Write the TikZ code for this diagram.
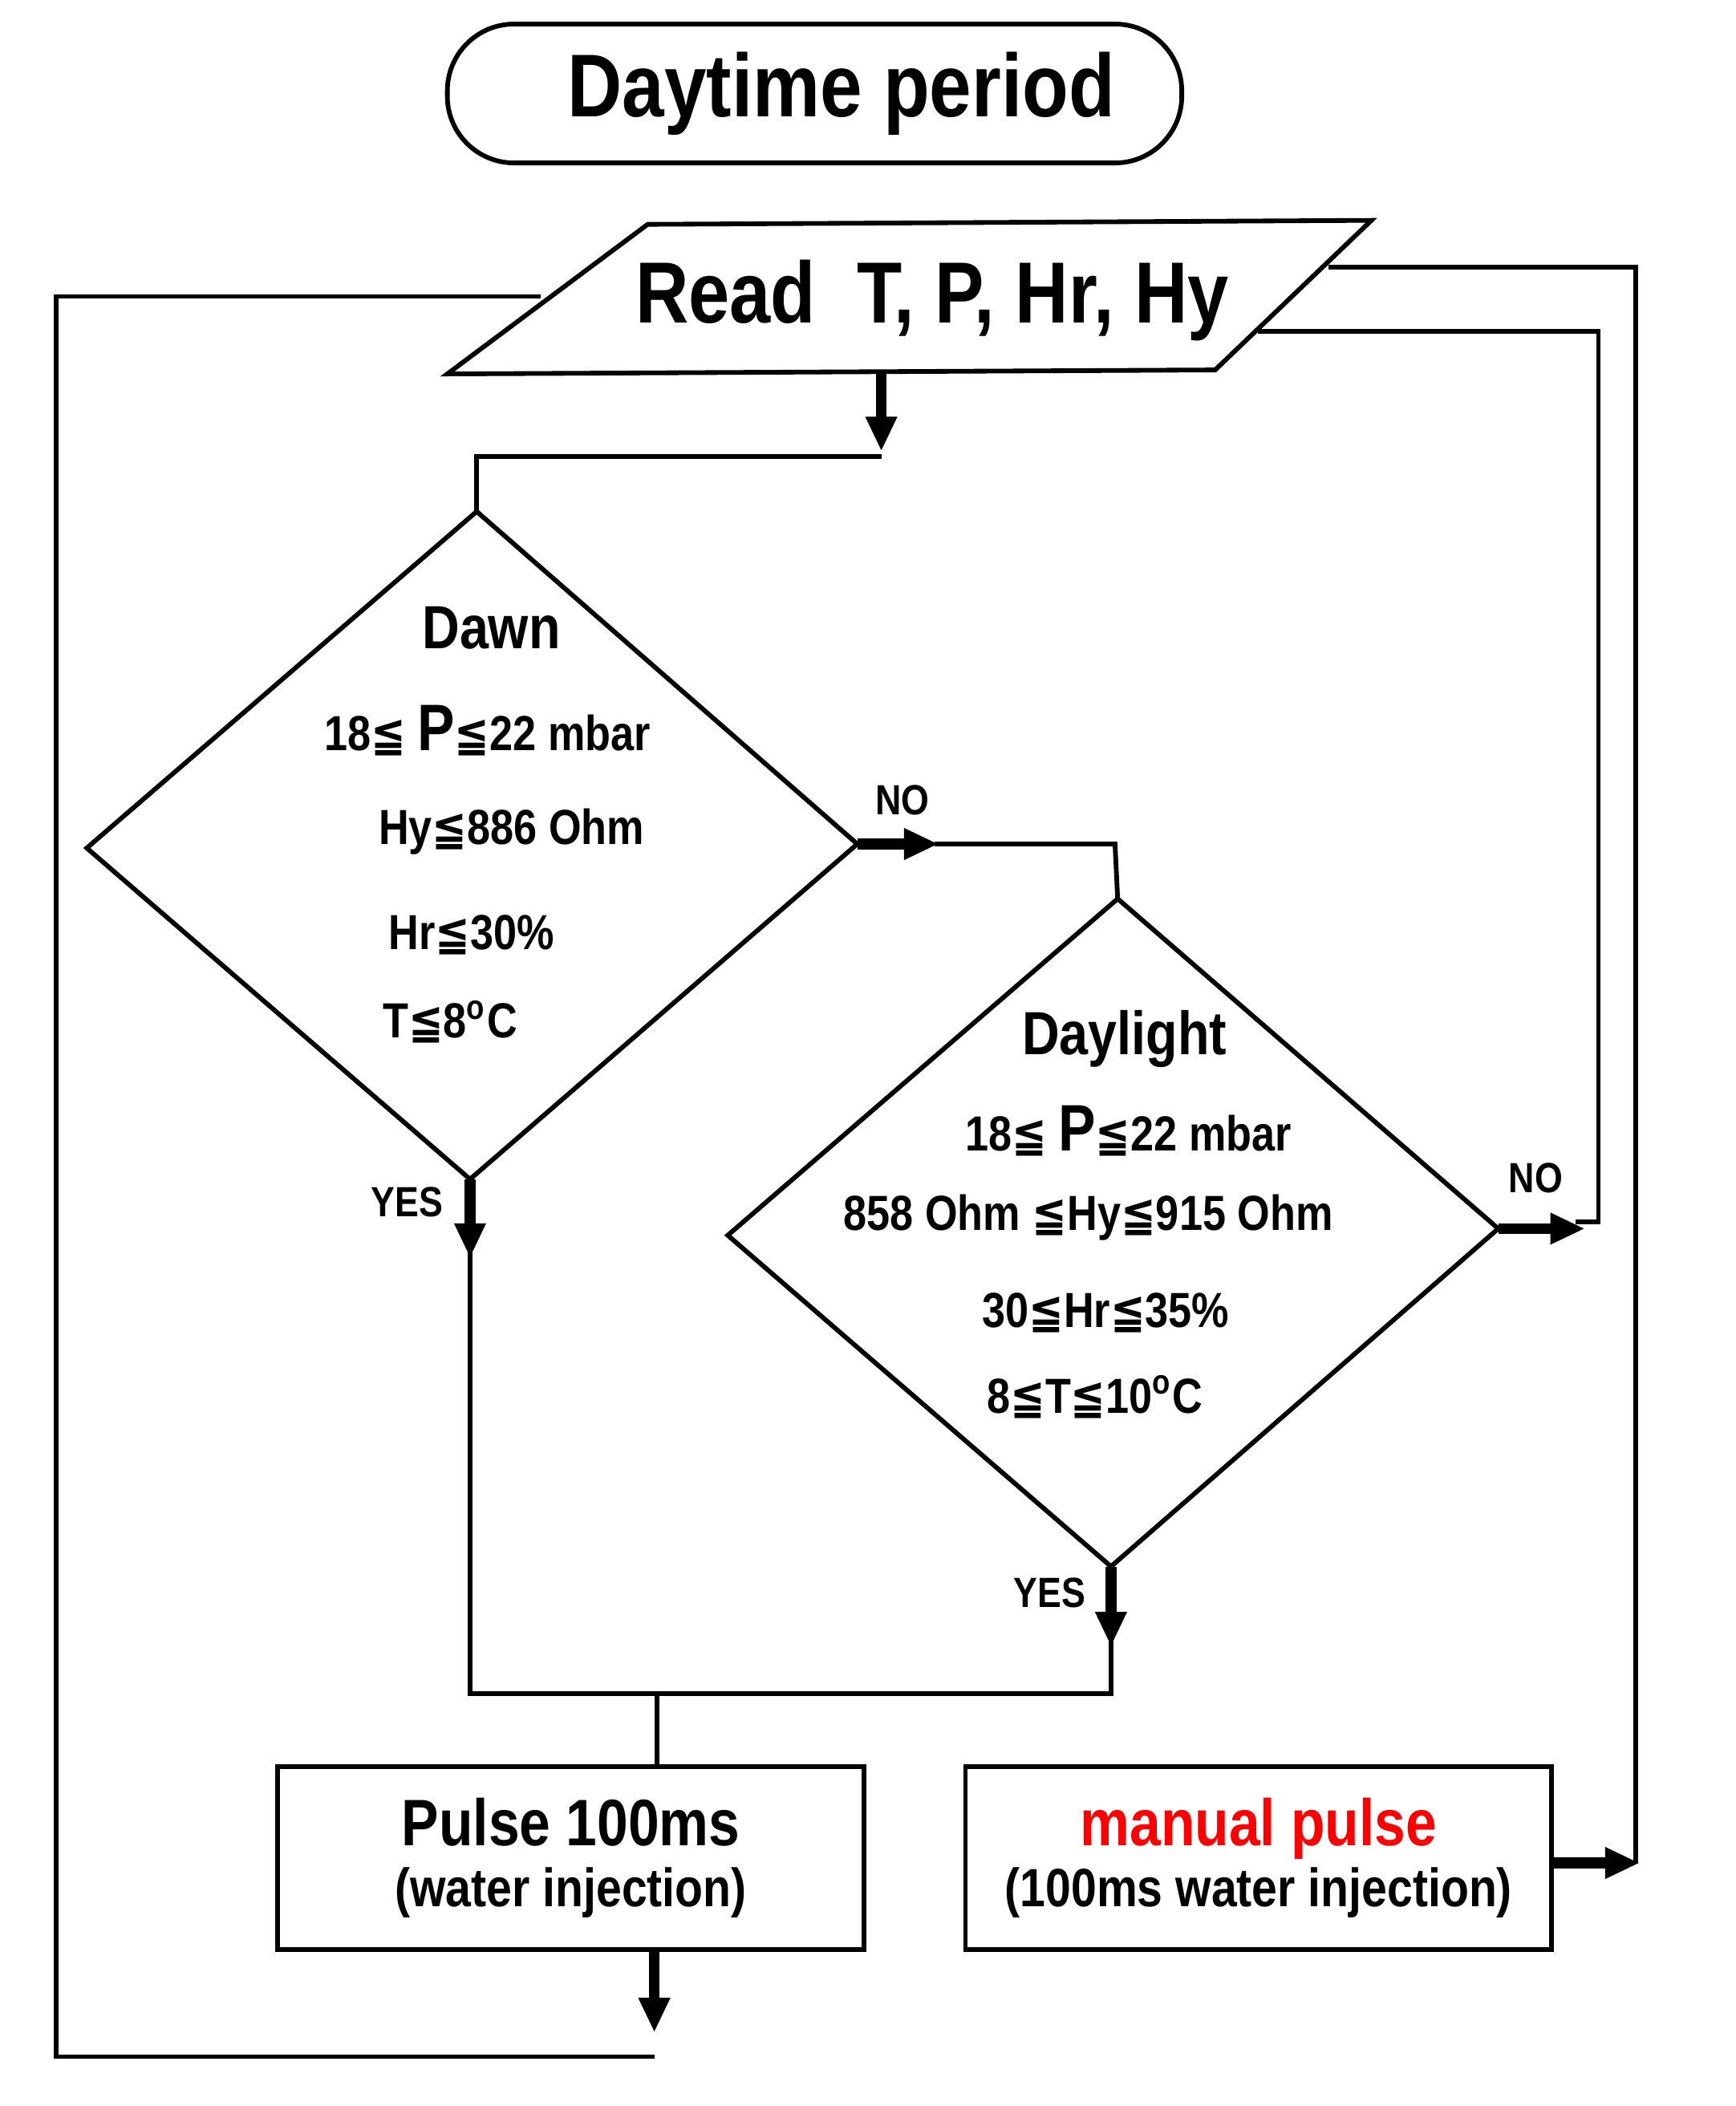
\documentclass[tikz,border=0pt]{standalone}
\usepackage{fontspec}
\setmainfont{Liberation Sans}[FakeStretch=0.85]
\newfontfamily\symf{DejaVu Sans}[FakeStretch=0.85]
\usetikzlibrary{arrows.meta}
\newcommand{\leqq}{{\symf\char"2266}}
\begin{document}
\begin{tikzpicture}[x=0.1mm,y=-0.1mm,line width=0.35mm,
  big/.style={-{Triangle[length=2.6mm,width=2.2mm]},line width=0.8mm},
  lab/.style={font=\bfseries\fontsize{9pt}{10pt}\selectfont},
  cond/.style={font=\bfseries\fontsize{10.5pt}{12pt}\selectfont}]
\useasboundingbox (0,0) rectangle (1300,1577);
% terminal
\node[draw,rounded corners=5mm,line width=0.35mm,minimum width=55mm,minimum height=10.4mm,
  font=\bfseries\fontsize{19pt}{22pt}\selectfont] (term) at (610,70) {\hspace*{4mm}Daytime period};
% parallelogram
\draw (335,280) coordinate (pa) -- (485,168) coordinate (pb) -- (1027,165) coordinate (pc) -- (910,277) coordinate (pd) -- cycle;
\node[font=\bfseries\fontsize{18.5pt}{22pt}\selectfont] (read) at (698,225) {Read\ \ T, P, Hr, Hy};
\coordinate (rl) at (405,222);
\coordinate (rr1) at (995,200);
\coordinate (rr2) at (942,248);
\coordinate (rb) at (660,278);
% diamonds
\draw (357,383) coordinate (dt) -- (642,632) coordinate (dr) -- (352,883) coordinate (db) -- (65,635) coordinate (dl) -- cycle;
\draw (837,673) coordinate (lt) -- (1122,920) coordinate (lr) -- (832,1173) coordinate (lb) -- (545,925) coordinate (ll) -- cycle;
\node[font=\bfseries\fontsize{13pt}{15pt}\selectfont] (dawn) at (368,470) {Dawn};
\node[cond] (d1) at (365,547) {18\leqq\ {\fontsize{14pt}{15pt}\selectfont P}\leqq22 mbar};
\node[cond] (d2) at (383,623) {Hy\leqq886 Ohm};
\node[cond] (d3) at (353,700) {Hr\leqq30\%};
\node[cond] (d4) at (337,765) {T\leqq8\textsuperscript{o}C};
\node[font=\bfseries\fontsize{13pt}{15pt}\selectfont] (dl0) at (842,778) {Daylight};
\node[cond] (l1) at (845,847) {18\leqq\ {\fontsize{14pt}{15pt}\selectfont P}\leqq22 mbar};
\node[cond] (l2) at (815,912) {858 Ohm \leqq Hy\leqq915 Ohm};
\node[cond] (l3) at (828,983) {30\leqq Hr\leqq35\%};
\node[cond] (l4) at (820,1046) {8\leqq T\leqq10\textsuperscript{o}C};
% boxes
\node[draw,line width=0.35mm,minimum width=43.9mm,minimum height=13.7mm,align=center] (pulse) at (427.5,1391.5)
 {{\bfseries\fontsize{14pt}{17pt}\selectfont Pulse 100ms}\\[1pt]{\bfseries\fontsize{11.5pt}{14pt}\selectfont (water injection)}};
\node[draw,line width=0.35mm,minimum width=43.9mm,minimum height=13.7mm,align=center] (manual) at (942.5,1391.5)
 {{\bfseries\fontsize{14pt}{17pt}\selectfont\color{red} manual pulse}\\[1pt]{\bfseries\fontsize{11.5pt}{14pt}\selectfont (100ms water injection)}};
% labels
\node[lab] (no1) at (676,599) {NO};
\node[lab] (no2) at (1150,882) {NO};
\node[lab] (yes1) at (305,900) {YES};
\node[lab] (yes2) at (786,1193) {YES};
% connectors
\draw[big] (rb) -- (660,338);
\draw (660,342) -- (357,342) -- (dt);
\draw[big] (dr) -- (703,632);
\draw (700,632) -- (835,632) -- (lt);
\draw[big] (db) -- (352,942);
\draw (352,938) -- (352,1268) -- (832,1268) -- (832,1228);
\draw[big] (lb) -- (832,1233);
\draw (492,1268) -- (pulse.north -| 492,0);
\draw[big] (lr) -- (1187,920);
\draw (1180,915) -- (1197,915) -- (1197,248) -- (rr2);
\draw (rr1) -- (1225,200) -- (1225,1395);
\draw[big] (manual.east |- 0,1395) -- (1228,1395);
\draw (rl) -- (42,222) -- (42,1540) -- (490,1540);
\draw[big] (pulse.south -| 490,0) -- (490,1522);
\end{tikzpicture}
\end{document}
